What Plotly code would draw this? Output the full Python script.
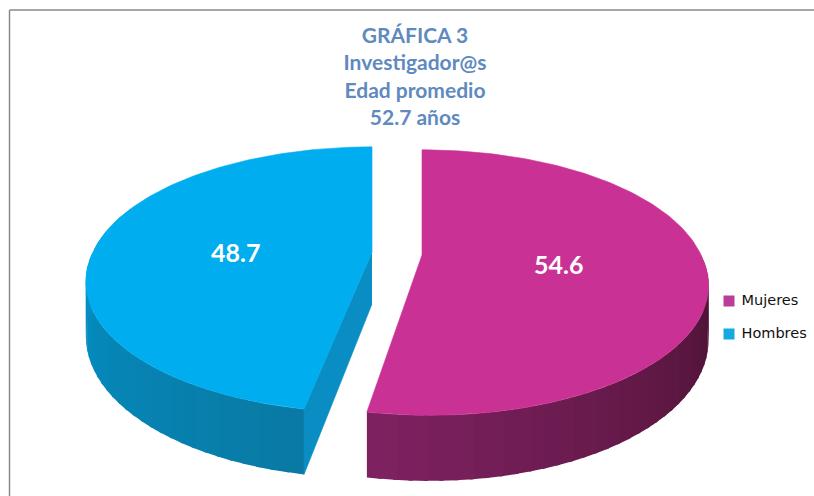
import numpy as np
import plotly.graph_objects as go

# data
categories = ['Mujeres', 'Hombres']
values = [54.6, 48.7]
title_lines = ['GRÁFICA 3', 'Investigador@s', 'Edad promedio', '52.7 años']

top_colors = ['#C93294', '#00ADEF']
wall_colors = [('#802262', '#47112F'), ('#0A7AA5', '#0097CF')]
cut_color = '#0A8DC2'
legend_colors = ['#BC3C97', '#14A9E0']

W, H = 814, 496

# fake perspective of the pie disc, everything in page pixels
a, b, k = 279, 127, 0.2076
wall_h = 52
view_x = 393
centers = [(422, 255), (372, 252)]


def project(theta, cx, cy, drop=0.0):
    s = 1 / (1 + k * np.cos(theta))
    # slices only drift apart towards the front, the back edges stay upright
    x = cx + (cx - view_x) * (np.maximum(s, 1) - 1) + a * np.sin(theta) * s
    y = cy - b * np.cos(theta) * s + drop * s
    return x, y


def poly(xs, ys, color, name=None, width=0.6):
    return go.Scatter(x=list(xs), y=list(ys), mode='lines', fill='toself',
                      fillcolor=color, line=dict(color=color, width=width),
                      hoverinfo='skip', showlegend=False, name=name)


def mix(c1, c2, t):
    p = [int(c1[i:i + 2], 16) for i in (1, 3, 5)]
    q = [int(c2[i:i + 2], 16) for i in (1, 3, 5)]
    return 'rgb(%d,%d,%d)' % tuple(p[i] + (q[i] - p[i]) * t for i in range(3))


split = 2 * np.pi * values[0] / sum(values)
spans = [(0.0, split), (split, 2 * np.pi)]
wall_spans = [(np.pi / 2, split), (split, 1.62 * np.pi)]

fig = go.Figure()

for i in [1, 0]:
    cx, cy = centers[i]
    # outer wall, cut in overlapping strips for the shading
    lo, hi = wall_spans[i]
    edges = np.linspace(lo, hi, 41)
    for j in range(40):
        t0 = np.linspace(edges[j], min(edges[j + 1] + 0.012, hi), 3)
        x1, y1 = project(t0, cx, cy)
        x2, y2 = project(t0, cx, cy, drop=wall_h)
        t = (split - edges[j]) / (split - np.pi / 2) if i == 0 else (edges[j] - split) / (hi - split)
        fig.add_trace(poly(np.r_[x1, x2[::-1]], np.r_[y1, y2[::-1]],
                           mix(wall_colors[i][0], wall_colors[i][1], t), width=0))
    # cut face of the pulled out slice
    if i == 1:
        ex, ey = project(np.array([split]), cx, cy)
        ex2, ey2 = project(np.array([split]), cx, cy, drop=wall_h)
        fig.add_trace(poly([cx, ex[0], ex2[0], cx], [cy, ey[0], ey2[0], cy + wall_h], cut_color))
    # top face
    th = np.linspace(spans[i][0], spans[i][1], 160)
    x, y = project(th, cx, cy)
    fig.add_trace(poly(np.r_[cx, x, cx], np.r_[cy, y, cy], top_colors[i], categories[i]))

# legend swatches and names
fig.add_trace(go.Scatter(x=[729, 729], y=[301, 334], mode='markers+text',
                         marker=dict(symbol='square', size=11, color=legend_colors),
                         text=['&nbsp;' + c for c in categories], textposition='middle right',
                         textfont=dict(family='DejaVu Sans', size=14.5, color='#111111'),
                         hoverinfo='skip', showlegend=False))

frame = dict(color='#8a8a8a', width=1.5)
fig.update_layout(
    width=W, height=H,
    autosize=False,
    margin=dict(l=0, r=0, t=0, b=0),
    paper_bgcolor='white', plot_bgcolor='white',
    showlegend=False,
    xaxis=dict(range=[0, W], visible=False, fixedrange=True),
    yaxis=dict(range=[H, 0], visible=False, fixedrange=True),
    title=dict(text='<br>'.join(title_lines), x=415 / W, xanchor='center', y=1 - 43 / H, yanchor='top',
               font=dict(family='Lato', size=21, color='#5F8ABF', weight='bold')),
    shapes=[dict(type='line', x0=9.5, x1=9.5, y0=10, y1=H, line=frame),
            dict(type='line', x0=9.5, x1=W, y0=10, y1=10, line=frame)],
    annotations=[dict(x=558, y=264, text=str(values[0]), showarrow=False,
                      font=dict(family='Lato', size=25, color='white', weight='bold')),
                 dict(x=235, y=252, text=str(values[1]), showarrow=False,
                      font=dict(family='Lato', size=25, color='white', weight='bold'))],
)

fig.write_html("out.html", config=dict(displayModeBar=False),
               post_script="document.body.style.margin='0';")
